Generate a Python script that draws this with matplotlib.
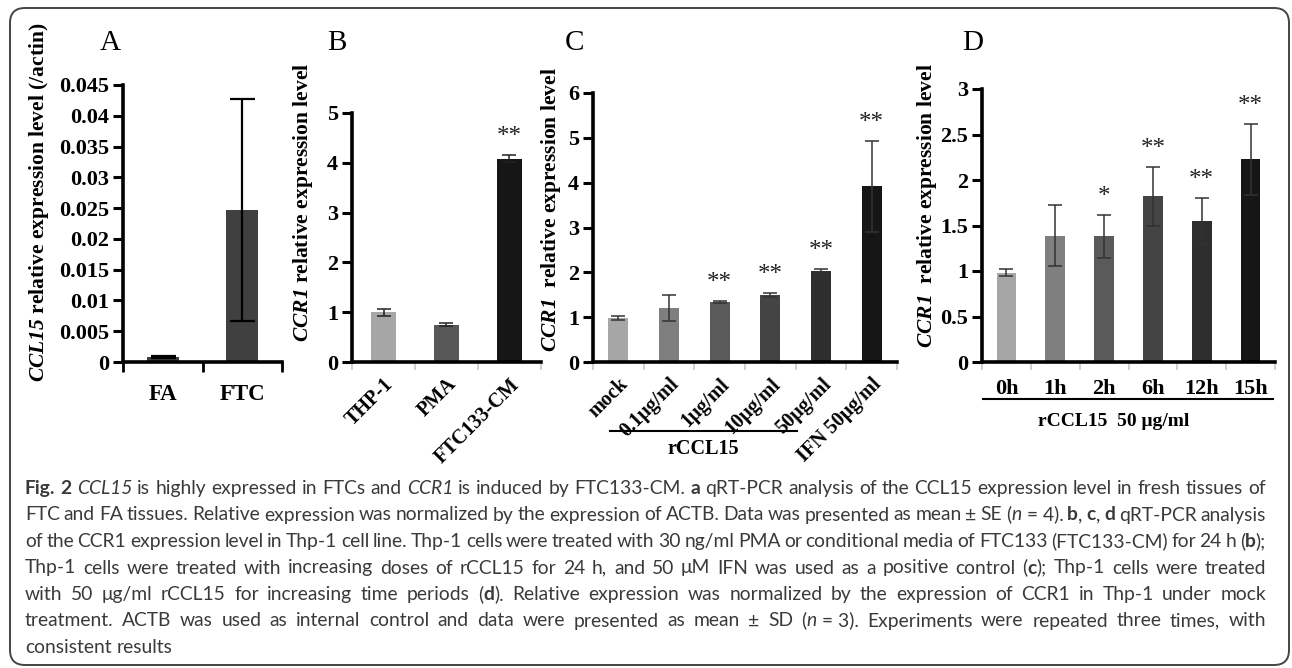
import re

import matplotlib
matplotlib.use("Agg")
import matplotlib.pyplot as plt
import numpy as np
from matplotlib.lines import Line2D
from matplotlib.patches import FancyBboxPatch

W, H, DPI = 1292, 668, 100
SERIF = "Liberation Serif"
CAP_FONT = ["Lato", "DejaVu Sans"]

plt.rcParams["mathtext.fontset"] = "custom"
plt.rcParams["mathtext.bfit"] = "Liberation Serif:bold:italic"
plt.rcParams["mathtext.it"] = "Liberation Serif:italic"
plt.rcParams["mathtext.bf"] = "Liberation Serif:bold"
plt.rcParams["mathtext.rm"] = "Liberation Serif"

# ---- data ----
a_groups = ["FA", "FTC"]
a_means = [0.0008, 0.0247]
a_errs = [0.0002, 0.0181]
a_colors = ["#404040", "#404040"]

b_groups = ["THP-1", "PMA", "FTC133-CM"]
b_means = [1.00, 0.75, 4.08]
b_errs = [0.07, 0.03, 0.07]
b_stars = ["", "", "**"]
b_colors = ["#a6a6a6", "#575757", "#161616"]

c_groups = ["mock", "0.1μg/ml", "1μg/ml", "10μg/ml", "50μg/ml", "IFN 50μg/ml"]
c_means = [0.98, 1.21, 1.34, 1.50, 2.04, 3.92]
c_errs = [0.04, 0.29, 0.03, 0.04, 0.04, 1.01]
c_stars = ["", "", "**", "**", "**", "**"]

d_groups = ["0h", "1h", "2h", "6h", "12h", "15h"]
d_means = [0.98, 1.39, 1.38, 1.82, 1.55, 2.23]
d_errs = [0.04, 0.33, 0.24, 0.32, 0.25, 0.39]
d_stars = ["", "", "*", "**", "**", "**"]

six_colors = ["#a6a6a6", "#7f7f7f", "#5a5a5a", "#444444", "#2e2e2e", "#161616"]

caption_lines = [
    "^Fig.^ ^2^ _CCL15_ is highly expressed in FTCs and _CCR1_ is induced by FTC133-CM. ^a^ qRT-PCR analysis of the CCL15 expression level in fresh tissues of",
    "FTC and FA tissues. Relative expression was normalized by the expression of ACTB. Data was presented as mean ± SE (_n_~=~4). ^b^, ^c^, ^d^ qRT-PCR analysis",
    "of the CCR1 expression level in Thp-1 cell line. Thp-1 cells were treated with 30 ng/ml PMA or conditional media of FTC133 (FTC133-CM) for 24 h (^b^);",
    "Thp-1 cells were treated with increasing doses of rCCL15 for 24 h, and 50 μM IFN was used as a positive control (^c^); Thp-1 cells were treated",
    "with 50 μg/ml rCCL15 for increasing time periods (^d^). Relative expression was normalized by the expression of CCR1 in Thp-1 under mock",
    "treatment. ACTB was used as internal control and data were presented as mean ± SD (_n_~=~3). Experiments were repeated three times, with",
    "consistent results",
]


def px_axes(fig, left, right, top, bottom):
    return fig.add_axes([left / W, 1 - bottom / H, (right - left) / W, (bottom - top) / H])


def bar_panel(ax, groups, means, errs, colors, ylim, yticks, yticklabels,
              stars=None, ecolor="#222222", elw=1.2, capsize=5, tick_color="#c8c8c8"):
    n = len(groups)
    x = np.arange(n) + 0.5
    ax.bar(x, means, width=0.4, color=colors, zorder=2)
    ax.errorbar(x, means, yerr=errs, fmt="none", ecolor=ecolor, elinewidth=elw,
                capsize=capsize, capthick=elw, zorder=3)
    if stars:
        for xi, m, e, s in zip(x, means, errs, stars):
            if s:
                ax.annotate(s, (xi, m + e), xytext=(0, 5), textcoords="offset points",
                            ha="center", va="bottom", fontsize=18, family=SERIF,
                            color="#222222")
    ax.set_xlim(0, n)
    ax.set_ylim(*ylim)
    for s in ("top", "right"):
        ax.spines[s].set_visible(False)
    for s in ("left", "bottom"):
        ax.spines[s].set_linewidth(2.6)
    ax.set_yticks(yticks)
    ax.set_yticklabels(yticklabels, family=SERIF, weight="bold", fontsize=16)
    ax.tick_params(axis="y", direction="out", length=7, width=2.2, pad=3)
    ax.set_xticks(x)
    ax.set_xticks(np.arange(n + 1), minor=True)
    ax.tick_params(axis="x", which="major", length=0)
    ax.tick_params(axis="x", which="minor", direction="out", length=6, width=1.2,
                   color=tick_color)
    ax.patch.set_visible(False)
    return x


fig = plt.figure(figsize=(W / DPI, H / DPI), dpi=DPI)

# frame round the whole figure
frame = FancyBboxPatch((0.10, 0.03), 12.79, 6.57, boxstyle="round,pad=0,rounding_size=0.15",
                       transform=fig.dpi_scale_trans, fill=False, ec="#444444", lw=1.4)
fig.add_artist(frame)

# ---- A ----
axA = px_axes(fig, 123, 282, 85, 362)
bar_panel(axA, a_groups, a_means, a_errs, a_colors, (0, 0.045),
          np.arange(0, 0.0451, 0.005),
          ["0", "0.005", "0.01", "0.015", "0.02", "0.025", "0.03", "0.035", "0.04", "0.045"],
          ecolor="black", elw=1.6, capsize=9, tick_color="black")
axA.tick_params(axis="x", which="minor", length=7, width=2)
axA.set_xticklabels(a_groups, family=SERIF, weight="bold", fontsize=16.5)
axA.tick_params(axis="x", which="major", pad=16)

# ---- B ----
axB = px_axes(fig, 352, 541, 113, 362)
bar_panel(axB, b_groups, b_means, b_errs, b_colors, (0, 5), range(6),
          [str(v) for v in range(6)], stars=b_stars, ecolor="#222222", elw=1.1, capsize=5)
axB.set_xticklabels(b_groups, family=SERIF, weight="bold", fontsize=14.5, rotation=45,
                    ha="right", va="top", rotation_mode="anchor")
axB.tick_params(axis="x", which="major", pad=9)

# ---- C ----
axC = px_axes(fig, 593, 897, 93, 362)
bar_panel(axC, c_groups, c_means, c_errs, six_colors, (0, 6), range(7),
          [str(v) for v in range(7)], stars=c_stars, ecolor="#333333", elw=1.1, capsize=5)
axC.set_xticklabels(c_groups, family=SERIF, weight="bold", fontsize=14.5, rotation=45,
                    ha="right", va="top", rotation_mode="anchor")
axC.tick_params(axis="x", which="major", pad=9)

# ---- D ----
axD = px_axes(fig, 982, 1275, 89, 362)
bar_panel(axD, d_groups, d_means, d_errs, six_colors, (0, 3), np.arange(0, 3.01, 0.5),
          ["0", "0.5", "1", "1.5", "2", "2.5", "3"], stars=d_stars, ecolor="#333333",
          elw=1.1, capsize=5)
axD.set_xticklabels(d_groups, family=SERIF, weight="bold", fontsize=16)
axD.tick_params(axis="x", which="major", pad=12)


def ftext(x, y, s, **kw):
    return fig.text(x / W, 1 - y / H, s, **kw)


# panel letters
for letter, lx in zip("ABCD", (110, 337, 575, 973)):
    ftext(lx, 43, letter, family=SERIF, fontsize=21, ha="center", va="center")

# y labels
ylab_kw = dict(family=SERIF, weight="bold", fontsize=15.5, rotation=90, ha="center", va="top")
ftext(39, 23, r"$\mathbfit{CCL15}$ relative expression level (/actin)", **ylab_kw)
ftext(303, 63, r"$\mathbfit{CCR1}$ relative expression level", **ylab_kw)
ftext(551, 67, r"$\mathbfit{CCR1}$  relative expression level", **ylab_kw)
ftext(927, 63, r"$\mathbfit{CCR1}$  relative expression level", **ylab_kw)

# group brackets under C and D
fig.add_artist(Line2D([610 / W, 797 / W], [1 - 431 / H] * 2, color="black", lw=1.5))
ftext(703, 449, "rCCL15", family=SERIF, weight="bold", fontsize=14.5, ha="center", va="center")
fig.add_artist(Line2D([983 / W, 1273 / W], [1 - 399 / H] * 2, color="black", lw=1.5))
ftext(1114, 421, "rCCL15  50 μg/ml", family=SERIF, weight="bold", fontsize=14, ha="center",
      va="center")


# ---- caption, justified ----
def parse_word(word):
    pieces = []
    for tok in re.split(r"(\^[^\^]+\^|_[^_]+_)", word):
        if not tok:
            continue
        if tok.startswith("^") and tok.endswith("^") and len(tok) > 2:
            pieces.append((tok[1:-1], "bold"))
        elif tok.startswith("_") and tok.endswith("_") and len(tok) > 2:
            pieces.append((tok[1:-1], "italic"))
        else:
            pieces.append((tok, "normal"))
    return [(t.replace("~", " "), s) for t, s in pieces]


cap_size = 13.9
cap_color = "#3a3a3a"
style_kw = {
    "normal": dict(weight="normal", style="normal"),
    "bold": dict(weight="bold", style="normal"),
    "italic": dict(weight="normal", style="italic"),
}
renderer = fig.canvas.get_renderer()


def width_of(t):
    return t.get_window_extent(renderer).width


probe1 = ftext(0, 0, "x x", family=CAP_FONT, fontsize=cap_size)
probe2 = ftext(0, 0, "xx", family=CAP_FONT, fontsize=cap_size)
space_w = width_of(probe1) - width_of(probe2)
probe1.remove()
probe2.remove()

cap_left, cap_right = 25, 1266
base_y, line_gap = 494, 26.5
for li, line in enumerate(caption_lines):
    words = []
    for w in line.split(" "):
        texts = []
        for t, st in parse_word(w):
            texts.append(ftext(0, 0, t, family=CAP_FONT, fontsize=cap_size, color=cap_color,
                               va="baseline", ha="left", **style_kw[st]))
        widths = [width_of(t) for t in texts]
        words.append((texts, widths))
    total = sum(sum(ws) for _, ws in words)
    last = li == len(caption_lines) - 1
    gap = space_w if last else (cap_right - cap_left - total) / (len(words) - 1)
    x = cap_left
    y = base_y + li * line_gap
    for texts, widths in words:
        for t, wd in zip(texts, widths):
            t.set_position((x / W, 1 - y / H))
            x += wd
        x += gap

fig.savefig("out.png", dpi=DPI)
